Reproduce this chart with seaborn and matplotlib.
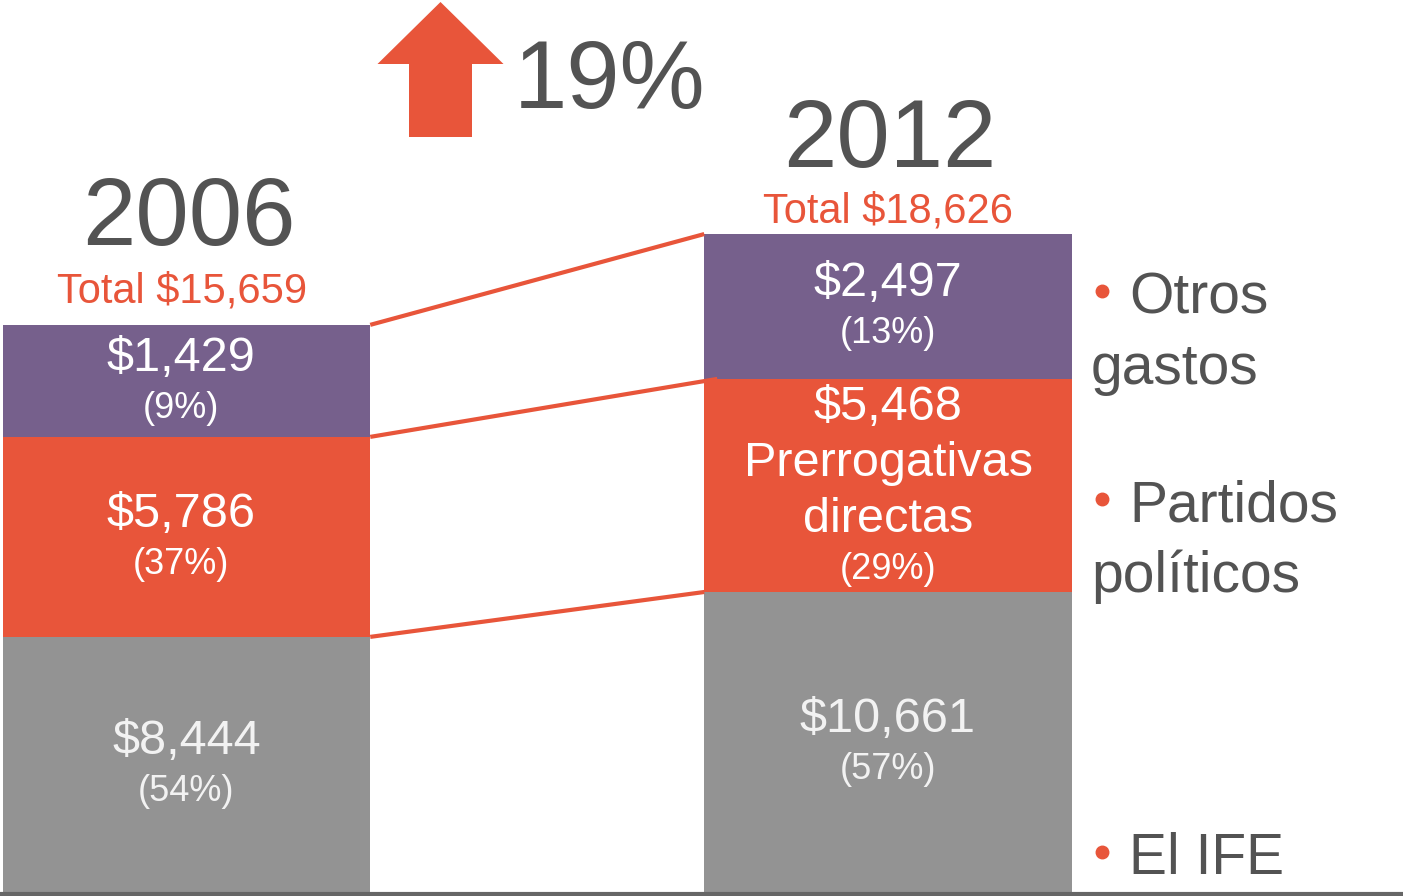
import numpy as np
import matplotlib
matplotlib.use('Agg')
import matplotlib.pyplot as plt
from matplotlib.patches import FancyArrow
import seaborn as sns

# Datos (millones de pesos), segmentos de abajo hacia arriba:
# El IFE, Partidos politicos, Otros gastos
anios = ['2006', '2012']
totales = ['Total $15,659', 'Total $18,626']
crecimiento = '19%'

montos_2006 = ['$8,444', '$5,786', '$1,429']
pct_2006 = ['(54%)', '(37%)', '(9%)']
montos_2012 = ['$10,661', '$5,468', '$2,497']
pct_2012 = ['(57%)', '(29%)', '(13%)']
nota_2012 = ['', 'Prerrogativas\ndirectas', '']

# alturas tal como estan dibujadas en la lamina (no proporcionales al monto)
alto_2006 = [7220, 5660, 3170]
alto_2012 = [8490, 6030, 4100]

leyenda = [['El IFE'], ['Partidos', 'políticos'], ['Otros', 'gastos']]

# estilo
naranja = '#E8553A'
morado = '#76608C'
gris = '#939393'
texto = '#535353'
colores = [gris, naranja, morado]

sns.set_theme(style='white')
plt.rcParams['font.family'] = ['Liberation Sans', 'DejaVu Sans']

W, H = 1403, 896
fig = plt.figure(figsize=(W / 100, H / 100), dpi=100)
ax = fig.add_axes([0, 0, 1, 1])

K = 28.3          # unidades por pixel en y
base_px = 892     # pixel de la base de las barras
x0_px, paso_px = 186.5, 701.5
ancho = 367.5 / paso_px


def fx(px):
    return px / W


def fy(py):
    return 1 - py / H


alturas = np.array([alto_2006, alto_2012], dtype=float)
acum = alturas.cumsum(axis=1)

# barras apiladas: se dibuja de la mas alta a la mas baja
for i in reversed(range(3)):
    sns.barplot(x=anios, y=acum[:, i], color=colores[i], width=ancho,
                saturation=1, linewidth=0, errorbar=None, ax=ax)

ax.set_xlim(-x0_px / paso_px, (W - x0_px) / paso_px)
ax.set_ylim((base_px - H) * K, base_px * K)
ax.set_axis_off()

# lineas que unen las barras
extra_px = [0, 13, 0]
for i in range(3):
    ax.plot([ancho / 2, 1 - ancho / 2 + extra_px[i] / paso_px],
            [acum[0, i], acum[1, i]], color=naranja, lw=3,
            solid_capstyle='butt', zorder=5)

# linea base
ax.axhline(-2 * K, color='#666666', lw=3, zorder=6)

# etiquetas dentro de los segmentos
montos = [montos_2006, montos_2012]
pcts = [pct_2006, pct_2012]
notas = [['', '', ''], nota_2012]
for j in range(2):
    for i in range(3):
        centro = acum[j, i] - alturas[j, i] / 2
        medio = [t for t in notas[j][i].split('\n') if t]
        c = '#f2f2f2' if i == 0 else 'white'
        dx = -4 if (j == 0 and i > 0) else 0
        lineas = [(montos[j][i], 35)] + [(t, 35) for t in medio]
        off = -10 - 27.5 * len(medio)
        for t, s in lineas:
            ax.annotate(t, xy=(j, centro), xytext=(dx, -off * 0.72),
                        textcoords='offset points', ha='center',
                        va='baseline', color=c, fontsize=s, zorder=7)
            off += 56
        off -= 9
        ax.annotate(pcts[j][i], xy=(j, centro), xytext=(dx, -off * 0.72),
                    textcoords='offset points', ha='center', va='baseline',
                    color=c, fontsize=26, zorder=7)

# encabezados
fig.text(fx(189), fy(245), anios[0], ha='center', va='baseline',
         fontsize=69, color=texto)
fig.text(fx(182), fy(302), totales[0], ha='center', va='baseline',
         fontsize=30, color=naranja)
fig.text(fx(890), fy(167), anios[1], ha='center', va='baseline',
         fontsize=69, color=texto)
fig.text(fx(888), fy(222), totales[1], ha='center', va='baseline',
         fontsize=30, color=naranja)

# flecha de crecimiento
flecha = FancyArrow((440.5 - x0_px) / paso_px, (base_px - 137) * K, 0,
                    135 * K, width=63 / paso_px, head_width=126 / paso_px,
                    head_length=62 * K, length_includes_head=True,
                    color=naranja, lw=0, zorder=5)
ax.add_patch(flecha)
fig.text(fx(514), fy(108), crecimiento, ha='left', va='baseline',
         fontsize=69, color=texto)

# leyenda a la derecha
pos_leyenda = [874, 521, 313]
for lineas, yb in zip(leyenda, pos_leyenda):
    ax.plot([fx(1102)], [fy(yb - 22)], 'o', ms=9, color=naranja,
            transform=fig.transFigure, clip_on=False)
    fig.text(fx(1129), fy(yb), lineas[0], ha='left', va='baseline',
             fontsize=41, color=texto)
    if len(lineas) > 1:
        fig.text(fx(1091), fy(yb + 71), lineas[1], ha='left',
                 va='baseline', fontsize=41, color=texto)

fig.savefig('out.png', dpi=100)
